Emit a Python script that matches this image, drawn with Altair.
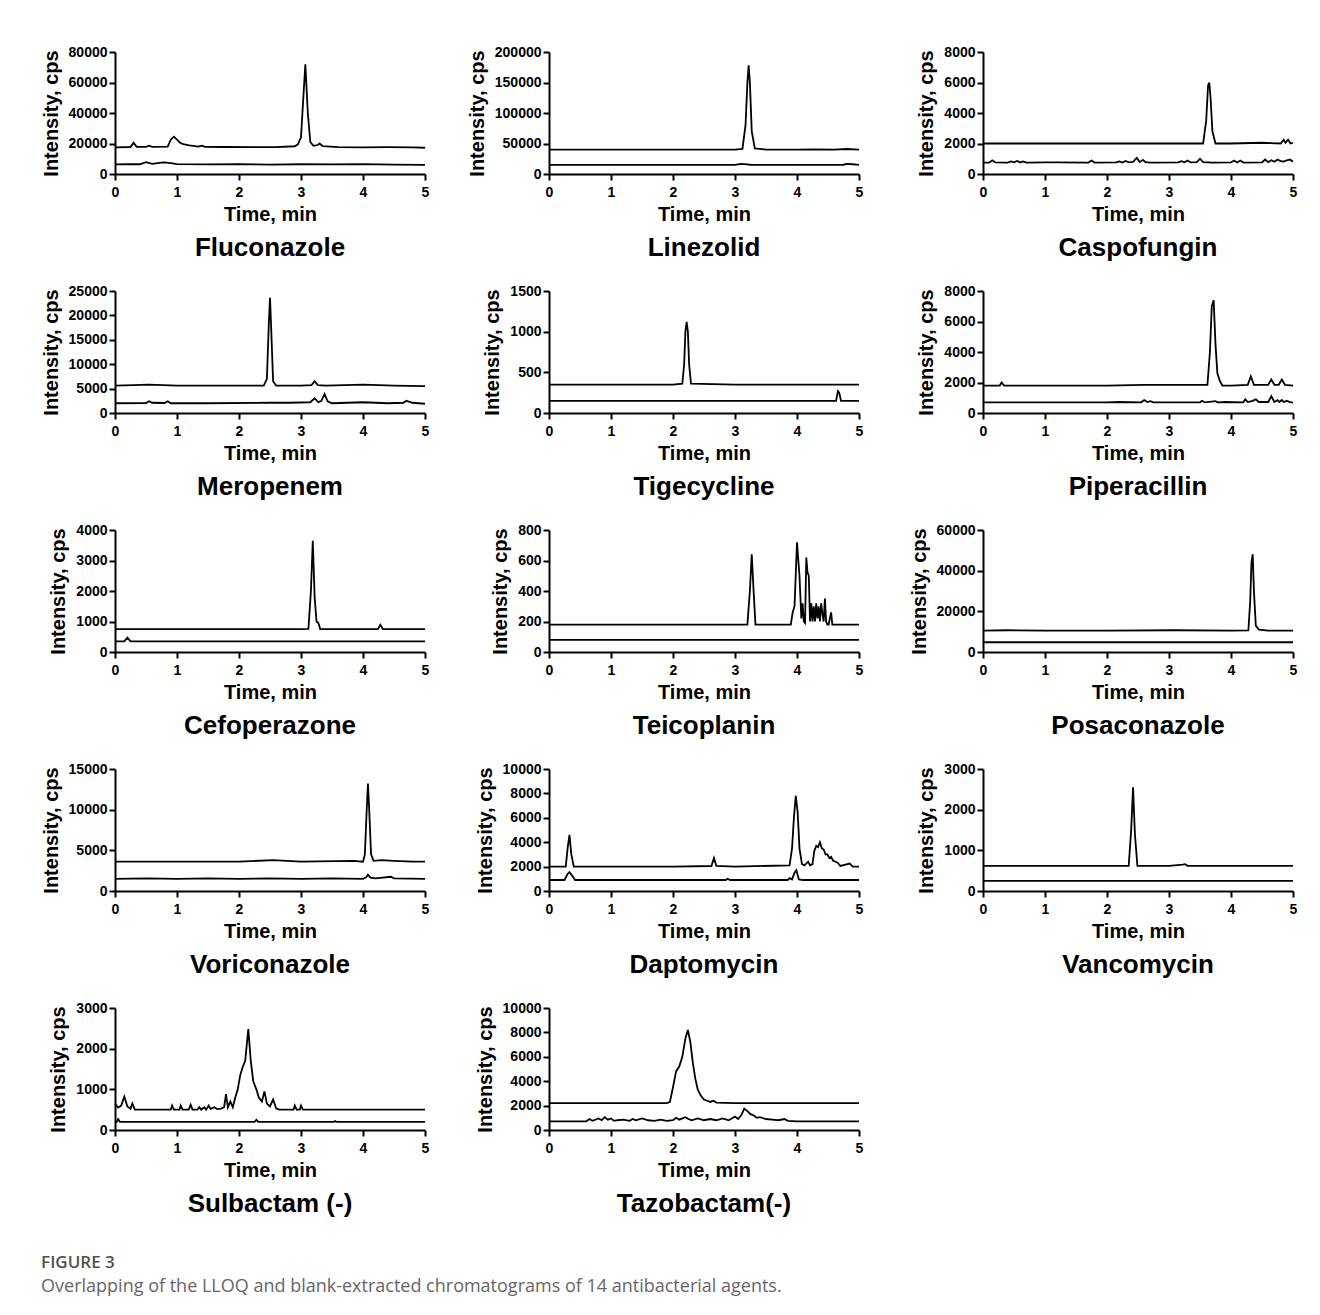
import altair as alt
import pandas as pd

# ---------------- data ----------------
NAMES = ["Fluconazole", "Linezolid", "Caspofungin", "Meropenem", "Tigecycline",
         "Piperacillin", "Cefoperazone", "Teicoplanin", "Posaconazole",
         "Voriconazole", "Daptomycin", "Vancomycin", "Sulbactam (-)", "Tazobactam(-)"]
Y_MAX = [80000, 200000, 8000, 25000, 1500, 8000, 4000, 800, 60000, 15000, 10000, 3000, 3000, 10000]
Y_STEP = [20000, 50000, 2000, 5000, 500, 2000, 1000, 200, 20000, 5000, 2000, 1000, 1000, 2000]
X_TICKS = [0, 1, 2, 3, 4, 5]

FLU_LLOQ_T = [0, 0.25, 0.3, 0.35, 0.5, 0.55, 0.6, 0.85, 0.9, 0.95, 1.0, 1.05, 1.1, 1.2, 1.35, 1.4, 1.45, 1.8, 2.2, 2.6, 2.9, 2.95, 3.0, 3.03, 3.07, 3.11, 3.15, 3.2, 3.27, 3.3, 3.35, 3.6, 4.0, 4.4, 4.8, 5.0]
FLU_LLOQ_V = [17500, 17700, 20500, 17800, 17800, 18600, 17800, 17900, 22500, 24500, 22500, 20500, 19600, 18800, 18000, 18600, 17800, 17700, 17600, 17600, 18200, 19500, 24000, 45000, 72000, 40000, 21000, 18500, 19000, 20000, 18300, 17600, 17500, 17600, 17500, 17200]
FLU_BLANK_T = [0, 0.2, 0.4, 0.5, 0.6, 0.75, 0.8, 0.9, 1.0, 1.5, 2.0, 2.5, 3.0, 3.5, 4.0, 4.5, 5.0]
FLU_BLANK_V = [6300, 6500, 6400, 7800, 6700, 7400, 7600, 7200, 6500, 6300, 6500, 6200, 6400, 6300, 6500, 6200, 6000]

LIN_LLOQ_T = [0, 1, 2, 3, 3.12, 3.17, 3.2, 3.22, 3.24, 3.27, 3.32, 3.5, 4.0, 4.3, 4.6, 4.8, 5.0]
LIN_LLOQ_V = [40000, 40000, 40000, 40000, 41000, 80000, 150000, 178000, 150000, 70000, 42000, 40000, 40000, 40500, 40000, 41000, 40000]
LIN_BLANK_T = [0, 1, 2, 3, 3.1, 3.15, 3.25, 3.5, 4.0, 4.5, 4.75, 4.8, 4.9, 5.0]
LIN_BLANK_V = [15000, 15000, 15000, 15000, 16500, 16300, 15200, 15000, 15000, 15000, 15200, 16500, 16000, 15000]

CAS_LLOQ_T = [0, 1, 2, 3, 3.55, 3.6, 3.63, 3.65, 3.67, 3.7, 3.75, 4.0, 4.5, 4.8, 4.85, 4.88, 4.92, 4.96, 5.0]
CAS_LLOQ_V = [2000, 2000, 2000, 2000, 2000, 3500, 5800, 6000, 5000, 2800, 2000, 2000, 2050, 2000, 2250, 2050, 2250, 2000, 2050]
CAS_BLANK_T = [0, 0.1, 0.15, 0.2, 0.4, 0.45, 0.5, 0.55, 0.6, 0.65, 0.7, 1.0, 1.2, 1.7, 1.75, 1.8, 2.15, 2.2, 2.25, 2.3, 2.35, 2.42, 2.48, 2.53, 2.58, 2.62, 2.7, 3.15, 3.2, 3.25, 3.3, 3.35, 3.45, 3.5, 3.55, 3.7, 4.0, 4.05, 4.1, 4.15, 4.2, 4.5, 4.55, 4.6, 4.65, 4.7, 4.75, 4.8, 4.85, 4.9, 4.95, 5.0]
CAS_BLANK_V = [750, 750, 900, 760, 750, 820, 760, 860, 760, 830, 750, 760, 760, 750, 880, 750, 760, 830, 750, 850, 760, 800, 1050, 780, 930, 780, 750, 760, 840, 770, 880, 760, 780, 1000, 780, 750, 760, 880, 760, 880, 750, 760, 950, 780, 900, 800, 950, 850, 820, 900, 950, 800]

MER_LLOQ_T = [0, 0.3, 0.55, 1.0, 2.0, 2.4, 2.45, 2.48, 2.5, 2.52, 2.55, 2.6, 3.0, 3.17, 3.22, 3.27, 3.4, 4.0, 4.5, 5.0]
MER_LLOQ_V = [5600, 5700, 5800, 5600, 5600, 5600, 7000, 18000, 23600, 17000, 6500, 5600, 5600, 5700, 6500, 5700, 5600, 5800, 5600, 5500]
MER_BLANK_T = [0, 0.5, 0.55, 0.6, 0.8, 0.85, 0.9, 1.5, 2.5, 2.8, 3.15, 3.22, 3.28, 3.33, 3.38, 3.43, 3.5, 4.0, 4.4, 4.65, 4.7, 4.75, 4.8, 5.0]
MER_BLANK_V = [2000, 2050, 2400, 2100, 2050, 2400, 2000, 2000, 2100, 2100, 2200, 3000, 2200, 2500, 3900, 2400, 2000, 2200, 2000, 2100, 2500, 2300, 2100, 1900]

TIG_LLOQ_T = [0, 1, 2, 2.15, 2.18, 2.2, 2.22, 2.24, 2.26, 2.29, 3, 4, 5]
TIG_LLOQ_V = [350, 350, 350, 360, 600, 1000, 1120, 1000, 600, 360, 350, 350, 350]
TIG_BLANK_T = [0, 1, 2, 3, 4, 4.63, 4.66, 4.68, 4.71, 5]
TIG_BLANK_V = [150, 150, 150, 150, 150, 150, 270, 250, 150, 150]

PIP_LLOQ_T = [0, 0.27, 0.3, 0.34, 1, 2, 2.6, 3, 3.62, 3.66, 3.69, 3.72, 3.75, 3.78, 3.82, 3.86, 4.0, 4.27, 4.32, 4.37, 4.6, 4.65, 4.7, 4.77, 4.82, 4.87, 5.0]
PIP_LLOQ_V = [1800, 1800, 2000, 1800, 1800, 1800, 1850, 1850, 1850, 4000, 7000, 7400, 4500, 2600, 2100, 1800, 1800, 1850, 2400, 1850, 1850, 2200, 1850, 1850, 2200, 1850, 1800]
PIP_BLANK_T = [0, 1, 2, 2.2, 2.55, 2.6, 2.65, 2.7, 2.75, 3.5, 3.53, 3.58, 3.75, 3.78, 3.9, 4.2, 4.23, 4.27, 4.35, 4.4, 4.45, 4.6, 4.65, 4.7, 4.75, 4.78, 4.82, 4.85, 4.9, 4.95, 5.0]
PIP_BLANK_V = [700, 700, 700, 720, 700, 850, 720, 780, 700, 700, 800, 700, 780, 700, 720, 700, 900, 720, 800, 900, 720, 720, 1100, 720, 850, 720, 850, 720, 800, 720, 680]

CEF_LLOQ_T = [0, 1, 2, 3, 3.12, 3.16, 3.19, 3.22, 3.25, 3.28, 3.31, 3.5, 4.0, 4.24, 4.28, 4.32, 4.6, 5.0]
CEF_LLOQ_V = [750, 750, 750, 750, 760, 2000, 3650, 1800, 1000, 950, 750, 750, 750, 750, 890, 750, 750, 750]
CEF_BLANK_T = [0, 0.15, 0.2, 0.25, 1, 2, 3, 4, 5]
CEF_BLANK_V = [350, 350, 470, 350, 350, 350, 350, 350, 350]

TEI_LLOQ_T = [0, 1, 2, 3, 3.2, 3.24, 3.27, 3.3, 3.33, 3.5, 3.9, 3.93, 3.96, 4.0, 4.04, 4.07, 4.09, 4.11, 4.13, 4.15, 4.17, 4.19, 4.21, 4.23, 4.25, 4.27, 4.29, 4.31, 4.33, 4.35, 4.37, 4.39, 4.41, 4.43, 4.45, 4.47, 4.49, 4.51, 4.55, 4.57, 4.59, 4.62, 5.0]
TEI_LLOQ_V = [180, 180, 180, 180, 180, 400, 640, 400, 180, 180, 180, 260, 300, 720, 500, 220, 320, 200, 190, 620, 520, 500, 200, 320, 200, 300, 200, 320, 220, 300, 200, 320, 250, 200, 350, 200, 180, 180, 260, 180, 180, 180, 180]
TEI_BLANK_T = [0, 1, 2, 3, 4, 5]
TEI_BLANK_V = [80, 80, 80, 80, 80, 80]

POS_LLOQ_T = [0, 0.4, 1, 2, 3.1, 4, 4.28, 4.31, 4.33, 4.35, 4.37, 4.4, 4.45, 4.6, 5]
POS_LLOQ_V = [10500, 10700, 10500, 10500, 10700, 10500, 10600, 25000, 44000, 48000, 30000, 13000, 11000, 10500, 10500]
POS_BLANK_T = [0, 1, 2, 3, 4, 5]
POS_BLANK_V = [4800, 4800, 4800, 4800, 4800, 4800]

VOR_LLOQ_T = [0, 1, 2, 2.55, 3, 3.85, 4.0, 4.03, 4.06, 4.08, 4.1, 4.13, 4.17, 4.3, 4.5, 4.8, 5.0]
VOR_LLOQ_V = [3600, 3600, 3600, 3800, 3600, 3700, 3600, 4500, 10000, 13200, 10000, 4500, 3700, 3800, 3700, 3600, 3600]
VOR_BLANK_T = [0, 0.5, 1, 1.5, 2, 2.5, 3, 3.5, 4.0, 4.05, 4.08, 4.12, 4.2, 4.45, 4.5, 5.0]
VOR_BLANK_V = [1500, 1550, 1500, 1550, 1500, 1550, 1500, 1550, 1500, 1700, 2000, 1650, 1550, 1750, 1550, 1500]

DAP_LLOQ_T = [0, 0.27, 0.3, 0.33, 0.36, 0.4, 1, 2, 2.62, 2.66, 2.7, 3, 3.88, 3.92, 3.95, 3.98, 4.01, 4.04, 4.08, 4.12, 4.18, 4.21, 4.25, 4.28, 4.31, 4.34, 4.37, 4.4, 4.43, 4.46, 4.49, 4.52, 4.55, 4.58, 4.62, 4.66, 4.7, 4.85, 4.9, 5.0]
DAP_LLOQ_V = [2000, 2000, 3500, 4600, 3000, 2000, 2000, 2000, 2050, 2700, 2050, 2000, 2100, 3500, 6000, 7800, 6500, 3500, 2200, 2100, 2400, 2100, 2200, 3300, 3700, 3600, 4000, 3500, 3400, 3000, 3000, 2700, 2800, 2500, 2400, 2300, 2050, 2250, 2000, 2000]
DAP_BLANK_T = [0, 0.25, 0.3, 0.33, 0.38, 0.42, 1, 2, 2.85, 2.88, 2.92, 3.5, 3.85, 3.88, 3.92, 3.96, 3.99, 4.03, 4.1, 5.0]
DAP_BLANK_V = [900, 900, 1400, 1550, 1200, 900, 900, 900, 900, 1000, 900, 900, 900, 1050, 950, 1500, 1700, 950, 900, 900]

VAN_LLOQ_T = [0, 1, 2, 2.35, 2.39, 2.42, 2.45, 2.49, 3, 3.22, 3.26, 3.3, 4, 5]
VAN_LLOQ_V = [620, 620, 620, 620, 1500, 2550, 1400, 620, 620, 650, 660, 620, 620, 620]
VAN_BLANK_T = [0, 1, 2, 3, 4, 5]
VAN_BLANK_V = [250, 250, 250, 250, 250, 250]

SUL_LLOQ_T = [0.0, 0.05, 0.1, 0.15, 0.2, 0.25, 0.28, 0.32, 0.9, 0.92, 0.95, 1.04, 1.06, 1.09, 1.19, 1.22, 1.25, 1.33, 1.36, 1.39, 1.44, 1.47, 1.51, 1.54, 1.6, 1.64, 1.7, 1.76, 1.79, 1.82, 1.86, 1.9, 1.94, 1.98, 2.02, 2.06, 2.1, 2.15, 2.19, 2.23, 2.28, 2.32, 2.37, 2.41, 2.45, 2.5, 2.55, 2.6, 2.65, 2.88, 2.9, 2.93, 2.98, 3.0, 3.03, 3.5, 4.0, 5.0]
SUL_LLOQ_V = [650, 550, 600, 820, 580, 520, 650, 500, 500, 600, 500, 500, 600, 500, 500, 620, 500, 500, 560, 500, 560, 500, 600, 520, 560, 520, 520, 560, 880, 560, 700, 560, 800, 1000, 1350, 1550, 1700, 2480, 1700, 1200, 1000, 800, 700, 950, 650, 580, 750, 530, 500, 500, 600, 500, 500, 600, 500, 500, 500, 500]
SUL_BLANK_T = [0, 0.03, 0.05, 0.08, 2.25, 2.28, 2.31, 3.53, 3.55, 3.57, 5]
SUL_BLANK_V = [200, 200, 270, 200, 200, 250, 200, 200, 220, 200, 200]

TAZ_LLOQ_T = [0, 1, 1.9, 1.95, 2.0, 2.05, 2.1, 2.15, 2.2, 2.24, 2.28, 2.32, 2.36, 2.4, 2.45, 2.5, 2.55, 2.6, 2.65, 2.7, 3, 4, 5]
TAZ_LLOQ_V = [2200, 2200, 2200, 2300, 3500, 4800, 5200, 6000, 7500, 8200, 7200, 5500, 4200, 3300, 2800, 2500, 2400, 2300, 2400, 2250, 2200, 2200, 2200]
TAZ_BLANK_T = [0, 0.6, 0.65, 0.7, 0.8, 0.85, 0.9, 0.95, 1.0, 1.05, 1.1, 1.2, 1.3, 1.35, 1.4, 1.5, 1.6, 1.7, 1.8, 1.9, 2.0, 2.05, 2.1, 2.2, 2.25, 2.3, 2.4, 2.5, 2.6, 2.7, 2.8, 2.9, 3.0, 3.05, 3.1, 3.15, 3.2, 3.25, 3.3, 3.35, 3.4, 3.5, 3.6, 3.7, 3.8, 3.85, 4.0, 5.0]
TAZ_BLANK_V = [700, 700, 900, 750, 950, 800, 1050, 850, 950, 750, 800, 850, 750, 900, 800, 950, 800, 750, 850, 750, 800, 1000, 850, 1050, 900, 800, 950, 800, 900, 800, 950, 800, 1100, 900, 1200, 1750, 1550, 1300, 1200, 1000, 1050, 900, 850, 800, 900, 750, 700, 700]

TRACES = [
    (FLU_LLOQ_T, FLU_LLOQ_V, FLU_BLANK_T, FLU_BLANK_V),
    (LIN_LLOQ_T, LIN_LLOQ_V, LIN_BLANK_T, LIN_BLANK_V),
    (CAS_LLOQ_T, CAS_LLOQ_V, CAS_BLANK_T, CAS_BLANK_V),
    (MER_LLOQ_T, MER_LLOQ_V, MER_BLANK_T, MER_BLANK_V),
    (TIG_LLOQ_T, TIG_LLOQ_V, TIG_BLANK_T, TIG_BLANK_V),
    (PIP_LLOQ_T, PIP_LLOQ_V, PIP_BLANK_T, PIP_BLANK_V),
    (CEF_LLOQ_T, CEF_LLOQ_V, CEF_BLANK_T, CEF_BLANK_V),
    (TEI_LLOQ_T, TEI_LLOQ_V, TEI_BLANK_T, TEI_BLANK_V),
    (POS_LLOQ_T, POS_LLOQ_V, POS_BLANK_T, POS_BLANK_V),
    (VOR_LLOQ_T, VOR_LLOQ_V, VOR_BLANK_T, VOR_BLANK_V),
    (DAP_LLOQ_T, DAP_LLOQ_V, DAP_BLANK_T, DAP_BLANK_V),
    (VAN_LLOQ_T, VAN_LLOQ_V, VAN_BLANK_T, VAN_BLANK_V),
    (SUL_LLOQ_T, SUL_LLOQ_V, SUL_BLANK_T, SUL_BLANK_V),
    (TAZ_LLOQ_T, TAZ_LLOQ_V, TAZ_BLANK_T, TAZ_BLANK_V),
]

FIG_LABEL = "FIGURE 3"
FIG_CAPTION = "Overlapping of the LLOQ and blank-extracted chromatograms of 14 antibacterial agents."

# ---------------- styling ----------------
MAIN_FONT = "Liberation Sans"
PANEL_W = 310
PANEL_H = 122


def panel(i):
    name = NAMES[i]
    lt, lv, bt, bv = TRACES[i]
    font = MAIN_FONT
    df = pd.DataFrame({
        "t": list(lt) + list(bt),
        "v": list(lv) + list(bv),
        "trace": ["LLOQ"] * len(lt) + ["Blank"] * len(bt),
    })
    axis_style = dict(
        labelFont=font, labelFontSize=14, labelFontWeight="bold", labelColor="black",
        titleFont=font, titleFontSize=20, titleFontWeight="bold", titleColor="black",
        domainColor="black", domainWidth=2, tickColor="black", tickWidth=2, tickSize=6,
        grid=False, labelFlush=False, format="d",
    )
    x = alt.X("t:Q", scale=alt.Scale(domain=[0, 5], nice=False, zero=False),
              axis=alt.Axis(values=X_TICKS, title="Time, min", labelPadding=5,
                            titlePadding=5, **axis_style))
    y = alt.Y("v:Q", scale=alt.Scale(domain=[0, Y_MAX[i]], nice=False),
              axis=alt.Axis(values=list(range(0, Y_MAX[i] + 1, Y_STEP[i])),
                            title="Intensity, cps", labelPadding=2, titlePadding=7,
                            labelOverlap=False, **axis_style))
    return (
        alt.Chart(df, title=alt.TitleParams(
            name, orient="bottom", anchor="middle", frame="group", font=font,
            fontSize=26, fontWeight="bold", color="black", offset=11))
        .mark_line(color="black", strokeWidth=1.8)
        .encode(x=x, y=y, detail="trace:N")
        .properties(width=PANEL_W, height=PANEL_H)
    )


chart = (
    alt.concat(*[panel(i) for i in range(len(NAMES))], columns=3,
               spacing={"row": 117, "column": 124}, bounds="flush")
    .properties(
        title=alt.TitleParams(
            FIG_LABEL, subtitle=FIG_CAPTION, orient="bottom", anchor="start",
            frame="bounds", font="Open Sans", fontSize=17, fontWeight=600,
            color="#505050", subtitleFont="Open Sans", subtitleFontSize=18,
            subtitleColor="#666666", subtitlePadding=6, offset=38),
        padding={"left": 33, "top": 37, "right": 5, "bottom": 5},
        background="white",
    )
    .configure_view(stroke="transparent", strokeWidth=0)
)

chart.save("out.html", embed_options={"renderer": "svg", "actions": False})
